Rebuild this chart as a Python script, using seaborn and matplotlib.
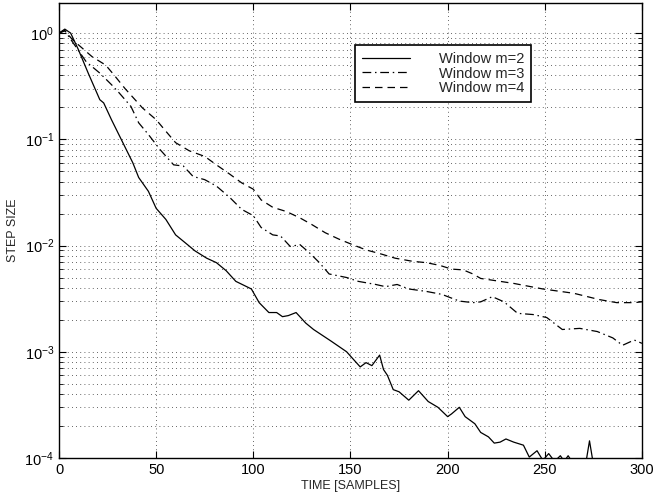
import numpy as np
import pandas as pd
import matplotlib
matplotlib.use("Agg")
import matplotlib.pyplot as plt
import seaborn as sns
from matplotlib.ticker import LogLocator, NullFormatter

# ---- data ----
x_m2 = [0, 3, 6, 10, 15, 21, 23, 27, 32, 38, 41, 46, 50, 55, 60, 65, 70, 76, 81, 86,
        91, 99, 103, 108, 112, 115, 118, 122, 127, 131, 140, 148, 155, 158, 161, 165,
        167, 169, 172, 175, 180, 185, 190, 195, 200, 202, 206, 209, 214, 217, 221, 224,
        227, 230, 234, 239, 242, 246, 249, 252, 255, 258, 260, 262, 265, 271, 273, 275,
        280, 300]
y_m2 = [1.0, 1.09, 1.0, 0.697, 0.421, 0.236, 0.22, 0.153, 0.100, 0.060, 0.0437, 0.0324,
        0.0224, 0.0176, 0.0126, 0.0106, 0.0089, 0.0076, 0.0069, 0.0058, 0.0046, 0.0039,
        0.0029, 0.00234, 0.00234, 0.00214, 0.00219, 0.00234, 0.00186, 0.00162, 0.00126,
        0.0010, 0.00072, 0.00079, 0.00074, 0.00093, 0.00068, 0.0006, 0.00044, 0.00042,
        0.00035, 0.00043, 0.00034, 0.0003, 0.000245, 0.00026, 0.0003, 0.000245, 0.00021,
        0.000174, 0.000158, 0.000138, 0.000141, 0.000151, 0.000141, 0.000132, 0.000102,
        0.000117, 0.000095, 0.00011, 0.000093, 0.000105, 0.000093, 0.000105, 0.000087,
        0.000087, 0.000145, 0.000087, 0.00008, 0.000063]

x_m3 = [0, 3, 5, 14, 21, 27, 31, 37, 41, 46, 52, 59, 64, 69, 75, 81, 88, 94, 100, 104,
        110, 114, 119, 124, 129, 134, 139, 148, 154, 163, 168, 174, 180, 189, 197, 206,
        213, 217, 223, 229, 236, 244, 251, 259, 268, 277, 285, 290, 296, 300]
y_m3 = [1.0, 1.06, 0.93, 0.537, 0.42, 0.327, 0.273, 0.204, 0.143, 0.111, 0.080, 0.0575,
        0.056, 0.0447, 0.0417, 0.0363, 0.0282, 0.0219, 0.0191, 0.0148, 0.0126, 0.0123,
        0.0098, 0.0102, 0.0085, 0.0069, 0.0054, 0.0050, 0.0046, 0.0043, 0.0041, 0.0043,
        0.0039, 0.0037, 0.00347, 0.0030, 0.0029, 0.00295, 0.0033, 0.00295, 0.0023,
        0.00224, 0.0021, 0.00162, 0.00166, 0.00155, 0.00135, 0.00115, 0.00129, 0.0012]

x_m4 = [0, 3, 7, 17, 24, 28, 34, 43, 50, 55, 60, 67, 75, 81, 88, 94, 100, 104, 110, 117,
        124, 130, 137, 144, 151, 158, 166, 173, 182, 189, 196, 202, 208, 213, 217, 234,
        249, 265, 278, 287, 296, 300]
y_m4 = [1.0, 1.05, 0.865, 0.60, 0.50, 0.41, 0.30, 0.197, 0.153, 0.119, 0.093, 0.078,
        0.069, 0.0575, 0.0468, 0.0389, 0.0339, 0.0269, 0.0229, 0.0209, 0.0182, 0.0158,
        0.0132, 0.0115, 0.0102, 0.0091, 0.0083, 0.0076, 0.0071, 0.0069, 0.0065, 0.0060,
        0.0059, 0.0054, 0.0049, 0.0044, 0.0039, 0.00355, 0.0031, 0.0029, 0.0029, 0.00295]

labels = ["Window m=2", "Window m=3", "Window m=4"]
x_ticks = [0, 50, 100, 150, 200, 250, 300]

# ---- plot ----
sns.set_theme(style="ticks")
plt.rcParams['font.family'] = ['Liberation Sans', 'DejaVu Sans']
plt.rcParams['mathtext.fontset'] = 'custom'
plt.rcParams['mathtext.rm'] = 'Liberation Sans'

fig = plt.figure(figsize=(6.69, 4.99), dpi=100)
ax = fig.add_axes([0.0882, 0.0822, 0.9596 - 0.0882, 0.994 - 0.0822])

styles = ["-", (0, (7, 3, 1.2, 3)), (0, (6, 4))]
for xs, ys, lab, ls in zip([x_m2, x_m3, x_m4], [y_m2, y_m3, y_m4], labels, styles):
    df = pd.DataFrame({"x": xs, "y": ys})
    sns.lineplot(data=df, x="x", y="y", ax=ax, color="black", linewidth=0.9,
                 linestyle=ls, label=lab, estimator=None, sort=False)

ax.set_yscale("log")
ax.set_xlim(0, 300)
ax.set_ylim(1e-4, 1.92)
ax.set_xticks(x_ticks)
ax.set_xticklabels([str(t) for t in x_ticks])
ax.yaxis.set_major_locator(LogLocator(base=10, numticks=10))
ax.yaxis.set_minor_locator(LogLocator(base=10, subs=np.arange(2, 10), numticks=20))
ax.yaxis.set_minor_formatter(NullFormatter())

ax.grid(True, which="major", axis="both", linestyle=(0, (1, 4)), color="#333333", linewidth=0.6)
ax.grid(True, which="minor", axis="y", linestyle=(0, (1, 4)), color="#333333", linewidth=0.6)

ax.tick_params(axis="both", which="both", direction="in", top=True, right=True,
               colors="black", labelsize=10.5)
ax.tick_params(axis="both", which="major", length=5, width=0.8)
ax.tick_params(axis="y", which="minor", length=3, width=0.6)
for sp in ax.spines.values():
    sp.set_color("black")
    sp.set_linewidth(1.0)

ax.set_xlabel("TIME [SAMPLES]", fontsize=9, labelpad=2)
ax.set_ylabel("STEP SIZE", fontsize=9, labelpad=4)

leg = ax.legend(loc="upper left", bbox_to_anchor=(0.508, 0.907), frameon=True,
                fancybox=False, edgecolor="black", fontsize=10.5, handlelength=3.3,
                handletextpad=2.0, labelspacing=0.05, borderpad=0.45, borderaxespad=0)
leg.get_frame().set_linewidth(1.2)
leg.get_frame().set_alpha(1)

fig.savefig("out.png", dpi=100)
